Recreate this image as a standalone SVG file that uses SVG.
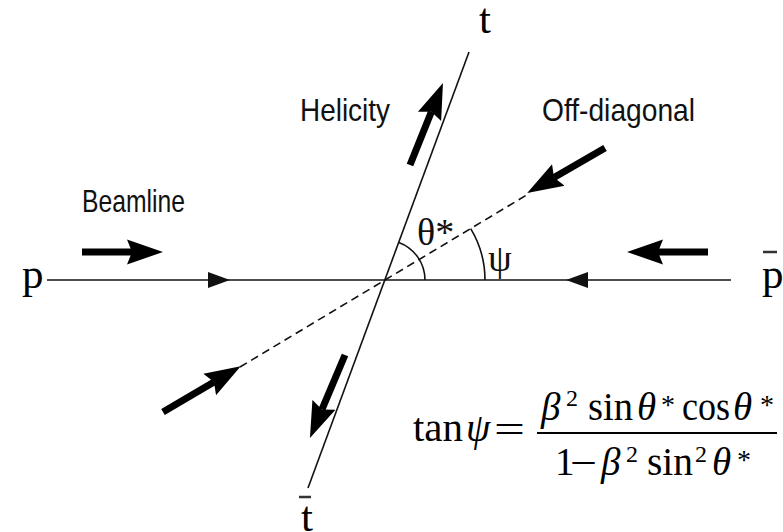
<svg xmlns="http://www.w3.org/2000/svg" width="783" height="532" viewBox="0 0 783 532">
<style>
.ln{stroke:#111;stroke-width:1.6;fill:none}
.dash{stroke:#111;stroke-width:1.6;fill:none;stroke-dasharray:8 5}
.big{stroke:#000;stroke-width:7;fill:none;marker-end:url(#ah)}
.lbl{font-family:"Liberation Serif","Times New Roman",serif;font-size:43px;fill:#000}
.sans{font-family:"Liberation Sans",Arial,sans-serif;font-size:32px;fill:#111}
.ang{font-family:"Liberation Serif","Times New Roman",serif;font-size:38px;fill:#111}
.m{font-family:"Liberation Serif","Times New Roman",serif;font-size:39px;fill:#000}
.mi{font-style:italic}
.sup{font-size:24px}
.st{font-size:28px}
</style>
<defs>
<marker id="ah" markerUnits="userSpaceOnUse" markerWidth="40" markerHeight="28" viewBox="0 0 40 28" refX="5" refY="14" orient="auto">
<path d="M0,1.5 L36,14 L0,26.5 L5,14 z" fill="#000"/>
</marker>
</defs>
<rect width="783" height="532" fill="#fff"/>
<g id="connectors">
<line class="ln" x1="47" y1="280" x2="731" y2="280"/>
<polygon points="208,272 230,280 208,288" fill="#111"/>
<polygon points="588,272 566,280 588,288" fill="#111"/>
<line class="ln" x1="469" y1="52" x2="308" y2="488"/>
<line class="dash" x1="240" y1="367" x2="530" y2="193"/>
<path class="ln" d="M425,280 A40,40 0 0 0 398.8,242.5"/>
<path class="ln" d="M485,280 A100,100 0 0 0 470.7,228.6"/>
<line class="big" x1="82" y1="252" x2="132" y2="252"/>
<line class="big" x1="708" y1="252" x2="658" y2="252"/>
<line class="big" x1="605" y1="148" x2="554" y2="177.5"/>
<line class="big" x1="163" y1="412" x2="214" y2="382"/>
<line class="big" x1="410" y1="165" x2="431.4" y2="111.8"/>
<line class="big" x1="345" y1="355" x2="322" y2="409.4"/>
</g>
<g id="p"><text class="lbl" x="22" y="288">p</text></g>
<g id="pbar"><line x1="763" y1="252" x2="777" y2="252" stroke="#333" stroke-width="2.5"/><text class="lbl" x="762" y="288">p</text></g>
<g id="t"><text class="lbl" x="479" y="33">t</text></g>
<g id="tbar"><line x1="299" y1="497" x2="311" y2="497" stroke="#333" stroke-width="2.5"/><text class="lbl" x="301" y="531">t</text></g>
<g id="beamline"><text class="sans" x="82" y="212" textLength="103" lengthAdjust="spacingAndGlyphs">Beamline</text></g>
<g id="helicity"><text class="sans" x="300" y="121" textLength="90" lengthAdjust="spacingAndGlyphs">Helicity</text></g>
<g id="offdiagonal"><text class="sans" x="542" y="121" textLength="153" lengthAdjust="spacingAndGlyphs">Off-diagonal</text></g>
<g id="theta"><text class="ang" x="417" y="245">θ*</text></g>
<g id="psi"><text class="ang" x="488" y="271">ψ</text></g>
<g id="formula">
<text class="m" x="413" y="441" textLength="50" lengthAdjust="spacingAndGlyphs">tan</text>
<text class="m mi" x="466" y="441">ψ</text>
<text class="m" x="494" y="443" textLength="31" lengthAdjust="spacingAndGlyphs">=</text>
<line x1="537" y1="433" x2="777" y2="433" stroke="#000" stroke-width="2"/>
<text class="m mi" x="541" y="420">β</text>
<text class="m sup" x="566" y="406">2</text>
<text class="m" x="588" y="420" textLength="45" lengthAdjust="spacingAndGlyphs">sin</text>
<text class="m mi" x="637" y="420">θ</text>
<text class="m st" x="661" y="414">*</text>
<text class="m" x="682" y="420" textLength="48" lengthAdjust="spacingAndGlyphs">cos</text>
<text class="m mi" x="733" y="420">θ</text>
<text class="m st" x="760" y="414">*</text>
<text class="m" x="555" y="475">1</text>
<text class="m" x="570" y="476" textLength="27" lengthAdjust="spacingAndGlyphs">−</text>
<text class="m mi" x="601" y="475">β</text>
<text class="m sup" x="626" y="462">2</text>
<text class="m" x="647" y="475" textLength="46" lengthAdjust="spacingAndGlyphs">sin</text>
<text class="m sup" x="695" y="462">2</text>
<text class="m mi" x="712" y="475">θ</text>
<text class="m st" x="737" y="469">*</text>
</g>
</svg>
